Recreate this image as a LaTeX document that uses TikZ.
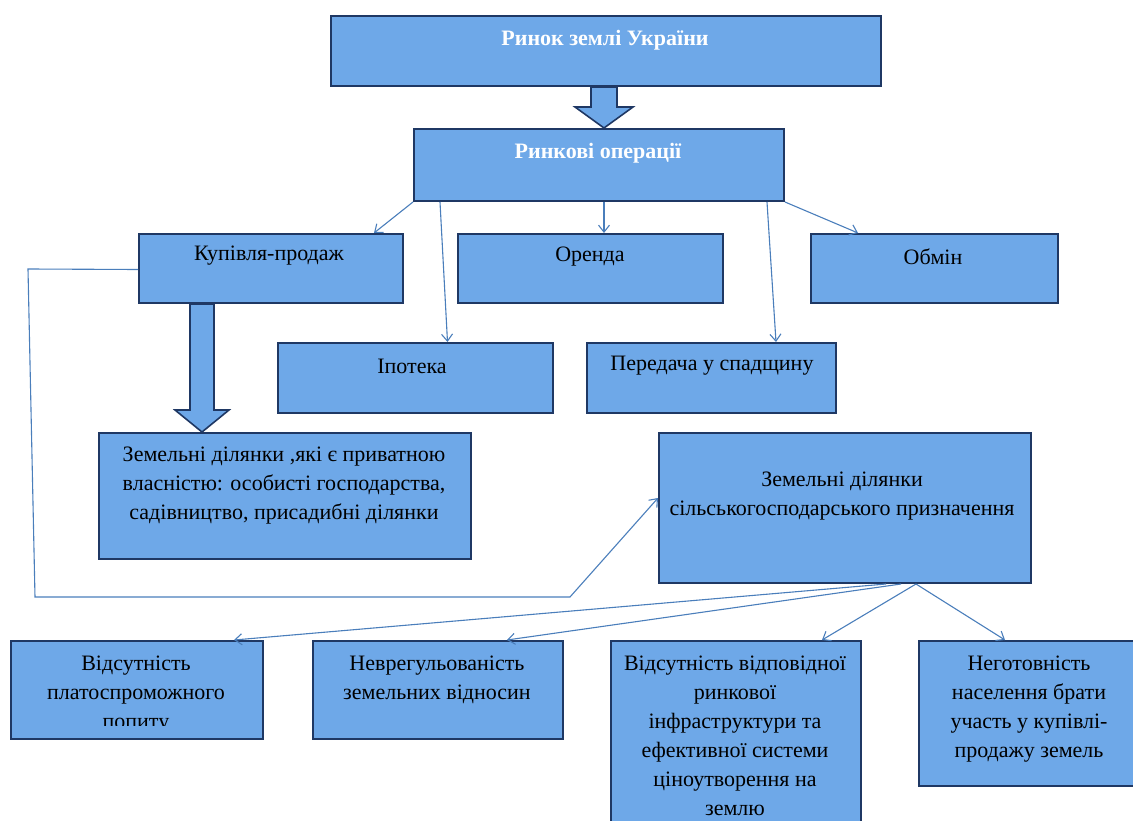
\documentclass[tikz,border=0pt]{standalone}
\usepackage{fontspec}
\setmainfont{Liberation Serif}
\usetikzlibrary{arrows.meta,calc}
\definecolor{boxfill}{HTML}{6EA8E8}
\definecolor{boxline}{HTML}{1F3864}
\definecolor{conncol}{HTML}{4A7EBB}
\begin{document}
\begin{tikzpicture}[x=1pt,y=-1pt,
  box/.style={draw=boxline, line width=2pt, fill=boxfill, inner sep=0pt, anchor=north west},
  txt/.style={font=\fontsize{22}{29}\selectfont, align=center, inner sep=0pt, text=black},
  wtxt/.style={txt, text=white, font=\fontsize{22}{29}\selectfont\bfseries},
  conn/.style={draw=conncol, line width=1.1pt, -{Straight Barb[length=7pt,width=11pt]}},
  bigarrow/.style={draw=boxline, line width=1.6pt, fill=boxfill, line join=miter}]
\useasboundingbox (0,0) rectangle (1133,821);

% boxes
\node[box, minimum width=550pt, minimum height=70pt] (rz) at (330,15) {};
\node[box, minimum width=370pt, minimum height=72pt] (ro) at (413,128) {};
\node[box, minimum width=264pt, minimum height=69pt] (kp) at (138,233) {};
\node[box, minimum width=265pt, minimum height=69pt] (or) at (457,233) {};
\node[box, minimum width=247pt, minimum height=69pt] (ob) at (810,233) {};
\node[box, minimum width=275pt, minimum height=70pt] (ip) at (277,342) {};
\node[box, minimum width=249pt, minimum height=70pt] (ps) at (586,342) {};
\node[box, minimum width=372pt, minimum height=126pt] (pr) at (98,432) {};
\node[box, minimum width=372pt, minimum height=150pt] (ag) at (658,432) {};
\node[box, minimum width=252pt, minimum height=98pt] (b1) at (10,640) {};
\node[box, minimum width=250pt, minimum height=98pt] (b2) at (312,640) {};
\node[box, minimum width=250pt, minimum height=200pt] (b3) at (610,640) {};
\node[box, minimum width=230pt, minimum height=145pt] (b4) at (918,640) {};

% texts
\node[wtxt] (rzt) at (605,40) {Ринок землі України};
\node[wtxt] (rot) at (598,153) {Ринкові операції};
\node[txt] (kpt) at (269,256) {Купівля-продаж};
\node[txt] (ort) at (590,257) {Оренда};
\node[txt] (obt) at (933,257) {Обмін};
\node[txt] (ipt) at (412,366) {Іпотека};
\node[txt] (pst) at (712,366) {Передача у спадщину};
\node[txt, anchor=north] (prt) at (284,447) {Земельні ділянки ,які є приватною\\власністю: особисті господарства,\\садівництво, присадибні ділянки};
\node[txt, anchor=north] (agt) at (842,472) {Земельні ділянки\\сільськогосподарського призначення};
\begin{scope}
\clip (b1.north west) rectangle ([yshift=15pt]b1.south east);
\node[txt, anchor=north] (b1t) at (136,656) {Відсутність\\платоспроможного\\попиту};
\end{scope}
\node[txt, anchor=north] (b2t) at (437,656) {Неврегульованість\\земельних відносин};
\node[txt, anchor=north] (b3t) at (735,656) {Відсутність відповідної\\ринкової\\інфраструктури та\\ефективної системи\\ціноутворення на\\землю};
\node[txt, anchor=north] (b4t) at (1029,656) {Неготовність\\населення брати\\участь у купівлі-\\продажу земель};

% big arrows
\coordinate (a1s) at ([xshift=-2pt]rz.south);
\coordinate (a1e) at (a1s |- ro.north);
\draw[bigarrow] ($(a1s)+(-13,0)$) -- ($(a1s)+(13,0)$) -- ($(a1e)+(13,-21)$) -- ($(a1e)+(29,-21)$) -- (a1e) -- ($(a1e)+(-29,-21)$) -- ($(a1e)+(-13,-21)$) -- cycle;
\coordinate (a2s) at ([xshift=-69pt]kp.south);
\coordinate (a2e) at (a2s |- pr.north);
\draw[bigarrow] ($(a2s)+(-12,0)$) -- ($(a2s)+(12,0)$) -- ($(a2e)+(12,-22)$) -- ($(a2e)+(27,-22)$) -- (a2e) -- ($(a2e)+(-27,-22)$) -- ($(a2e)+(-12,-22)$) -- cycle;

% connectors
\draw[conn] (ro.south west) -- ([xshift=-30pt]kp.north east);
\draw[conn] ([xshift=27pt]ro.south west) -- ([xshift=32pt]ip.north);
\draw[conn] ([xshift=5pt]ro.south) -- ([xshift=13.5pt]or.north);
\draw[conn] ([xshift=-18pt]ro.south east) -- ([xshift=64.5pt]ps.north);
\draw[conn] (ro.south east) -- ([xshift=48pt]ob.north west);
\draw[conn] ([yshift=-1pt]kp.west) -- (28,269) -- (35,597) -- (570,597) -- ([yshift=10pt]ag.west);
\draw[conn] ([xshift=41pt]ag.south) -- ([xshift=-30pt]b1.north east);
\draw[conn] ([xshift=56pt]ag.south) -- ([xshift=-57pt]b2.north east);
\draw[conn] ([xshift=71pt]ag.south) -- ([xshift=-40pt]b3.north east);
\draw[conn] ([xshift=71pt]ag.south) -- ([xshift=87pt]b4.north west);
\end{tikzpicture}
\end{document}
